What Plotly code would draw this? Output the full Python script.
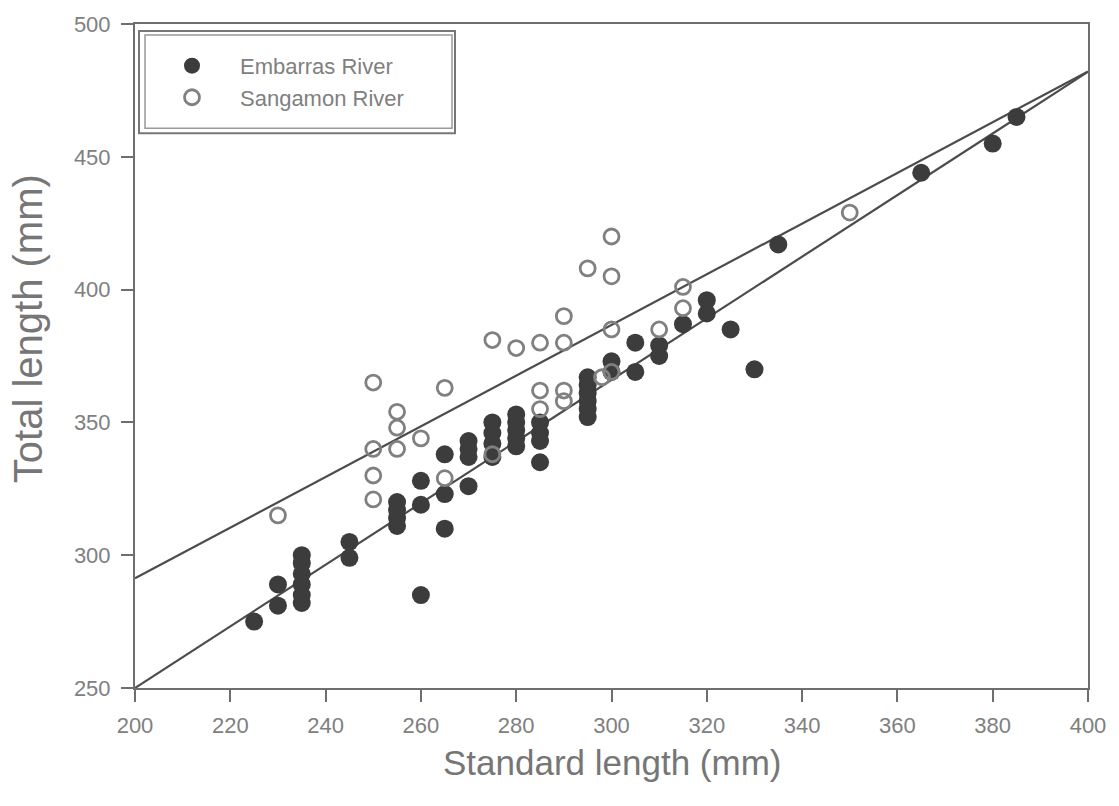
import plotly.graph_objects as go

# Embarras River (filled)
emb_sl = [225, 230, 230, 235, 235, 235, 235, 235, 235, 245, 245,
          255, 255, 255, 255, 260, 260, 260, 265, 265, 265,
          270, 270, 270, 270, 275, 275, 275, 275,
          280, 280, 280, 280, 280, 285, 285, 285, 285,
          295, 295, 295, 295, 295, 295, 300, 300, 305, 305, 310, 310,
          315, 320, 320, 325, 330, 335, 365, 380, 385]
emb_tl = [275, 281, 289, 300, 297, 293, 289, 285, 282, 305, 299,
          320, 317, 314, 311, 328, 319, 285, 338, 323, 310,
          343, 340, 337, 326, 350, 346, 342, 337,
          353, 350, 347, 344, 341, 350, 346, 343, 335,
          367, 364, 361, 358, 355, 352, 373, 369, 380, 369, 379, 375,
          387, 396, 391, 385, 370, 417, 444, 455, 465]

# Sangamon River (open)
san_sl = [230, 250, 250, 250, 250, 255, 255, 255, 260, 265, 265,
          275, 275, 280, 285, 285, 285, 290, 290, 290, 290,
          295, 298, 300, 300, 300, 300, 310, 315, 315, 350]
san_tl = [315, 365, 340, 330, 321, 354, 348, 340, 344, 363, 329,
          381, 338, 378, 380, 362, 355, 390, 380, 362, 358,
          408, 367, 420, 405, 385, 369, 385, 401, 393, 429]

# Regression lines (intercept, slope)
emb_fit = (18.0, 1.16)
san_fit = (100.5, 0.954)
x_range = [200, 400]

FONT = "Liberation Sans, Arial, sans-serif"

fig = go.Figure()

for (a, b) in (san_fit, emb_fit):
    fig.add_trace(go.Scatter(
        x=x_range, y=[a + b * v for v in x_range], mode="lines",
        line=dict(color="#4c4c4c", width=2.2), showlegend=False, hoverinfo="skip"))

fig.add_trace(go.Scatter(
    x=emb_sl, y=emb_tl, mode="markers", name="Embarras River",
    marker=dict(symbol="circle", size=18, color="#3c3c3c",
                line=dict(color="#3c3c3c", width=0))))
fig.add_trace(go.Scatter(
    x=san_sl, y=san_tl, mode="markers", name="Sangamon River",
    marker=dict(symbol="circle-open", size=15, color="#808080",
                line=dict(color="#808080", width=2.8))))

axis_common = dict(
    showline=True, linecolor="#6e6e6e", linewidth=2, mirror=True,
    ticks="outside", ticklen=12, tickcolor="#6e6e6e", tickwidth=1.5,
    showgrid=False, zeroline=False,
    tickfont=dict(family=FONT, size=22, color="#808080"),
)

L, R, T, B = 135, 1088, 20, 688
def px(x): return (x - L) / (R - L)
def py(y): return (B - y) / (B - T)

# legend frame (double border as in the reference)
shapes = [
    dict(type="rect", xref="paper", yref="paper", x0=px(139), x1=px(455), y0=py(130), y1=py(27),
         line=dict(color="#777777", width=2), fillcolor="white", layer="below"),
    dict(type="rect", xref="paper", yref="paper", x0=px(145), x1=px(452), y0=py(125), y1=py(31),
         line=dict(color="#999999", width=1.5), layer="below"),
]

annotations = [
    dict(text="Standard length (mm)", xref="paper", yref="paper", x=px(612), y=py(763),
         xanchor="center", yanchor="middle", showarrow=False,
         font=dict(family=FONT, size=35, color="#767676")),
    dict(text="Total length (mm)", xref="paper", yref="paper", x=px(28), y=py(327),
         xanchor="center", yanchor="middle", showarrow=False, textangle=-90,
         font=dict(family=FONT, size=40, color="#767676")),
]

fig.update_layout(
    width=1119, height=806,
    paper_bgcolor="white", plot_bgcolor="white",
    margin=dict(l=L, r=1119 - R, t=T, b=806 - B),
    xaxis=dict(range=[200, 400], dtick=20, ticklabelstandoff=5, **axis_common),
    yaxis=dict(range=[250, 500], dtick=50, ticklabelstandoff=6, **axis_common),
    legend=dict(x=px(144), y=py(41), xanchor="left", yanchor="top",
                bgcolor="rgba(0,0,0,0)", borderwidth=0,
                font=dict(family=FONT, size=22, color="#808080"),
                itemsizing="trace", itemwidth=86, tracegroupgap=0),
    shapes=shapes,
    annotations=annotations,
    showlegend=True,
)

fig.write_html("out.html")
